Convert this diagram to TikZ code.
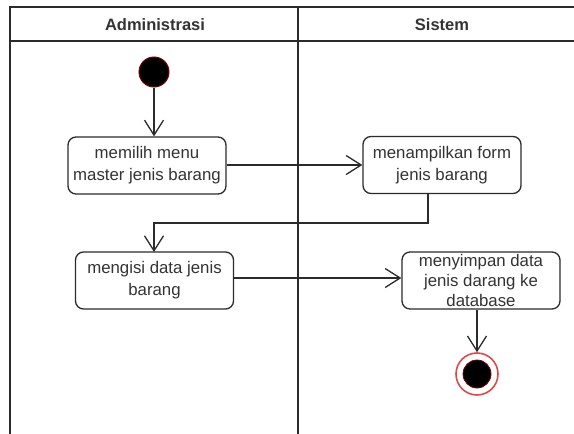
\documentclass[tikz,border=0pt]{standalone}
\usepackage{fontspec}
\setmainfont{Liberation Sans}
\usetikzlibrary{arrows.meta}

\definecolor{lanegray}{HTML}{2B2B2B}
\definecolor{textgray}{HTML}{333333}
\definecolor{startred}{HTML}{7A0000}
\definecolor{endring}{HTML}{E04848}

\tikzset{
  lane/.style={draw=lanegray, line width=1.6pt},
  action/.style={draw=lanegray, line width=1.3pt, rounded corners=8pt, fill=white,
    minimum width=158pt, minimum height=57pt, align=center, text=textgray,
    inner sep=0pt, font=\fontsize{16.8}{22}\selectfont},
  flow/.style={draw=lanegray, line width=1.3pt, -{Straight Barb[length=15pt,width=19pt,line width=1.3pt]}},
  lanetitle/.style={text=textgray, font=\fontsize{16.5}{20}\selectfont\bfseries},
}

\begin{document}
\begin{tikzpicture}[x=1pt, y=-1pt]
  \useasboundingbox (0,0) rectangle (574,434);
  \clip (0,0) rectangle (574,434);

  % swimlane frame
  \draw[lane] (10,440) -- (10,7) -- (600,7);
  \draw[lane] (10,41) -- (600,41);
  \draw[lane] (298,7) -- (298,440);
  \node[lanetitle] (admin) at (155,25) {Administrasi};
  \node[lanetitle] (sys) at (442,25) {Sistem};

  % initial node
  \node[circle, fill=black, draw=startred, line width=1pt, minimum size=30pt, inner sep=0pt] (start) at (154,72) {};

  % actions
  \node[action] (b1) at (147,165.5) {memilih menu\\master jenis barang};
  \node[action] (b2) at (442,165) {menampilkan form\\jenis barang};
  \node[action] (b3) at (154.5,280.5) {mengisi data jenis\\barang};
  \node[action, font=\fontsize{16.8}{20}\selectfont] (b4) at (481,280.5) {menyimpan data\\jenis darang ke\\database};

  % final node
  \node[circle, draw=endring, line width=1.6pt, fill=white, minimum size=42pt, inner sep=0pt] (endo) at (477,374) {};
  \node[circle, fill=black, draw=startred, line width=0.8pt, minimum size=28pt, inner sep=0pt] (endi) at (477,374) {};

  % control flow
  \coordinate (b2out) at (428,193.5);
  \coordinate (b3in) at (154,252);
  \draw[flow] (start) -- (start |- b1.north);
  \draw[flow] (b1.east |- 0,165) -- (b2.west |- 0,165);
  \draw[flow] (b2out) -- (428,223) -- (154,223) -- (b3in);
  \draw[flow] (b3.east |- 0,278) -- (b4.west |- 0,278);
  \draw[flow] (b4.south -| endo) -- (endo.north);
\end{tikzpicture}
\end{document}
